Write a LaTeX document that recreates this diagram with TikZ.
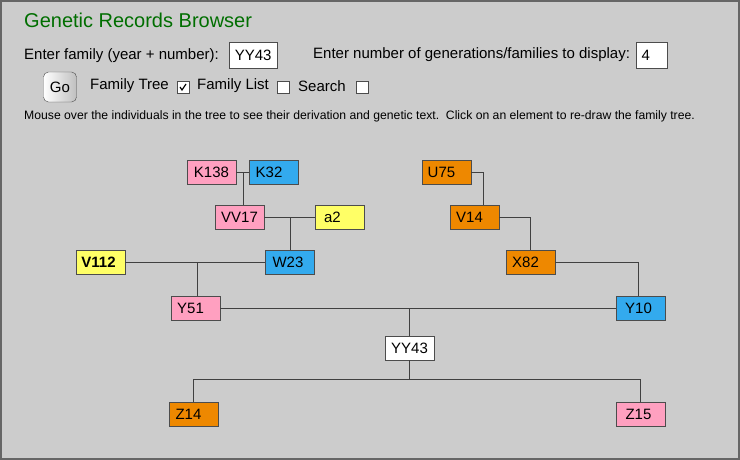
\documentclass[tikz,border=0pt]{standalone}
\usepackage{fontspec}
\setmainfont{Liberation Sans}
\usetikzlibrary{positioning}
\definecolor{bg}{RGB}{204,204,204}
\definecolor{fpink}{RGB}{255,160,192}
\definecolor{fblue}{RGB}{51,170,238}
\definecolor{fyellow}{RGB}{255,255,102}
\definecolor{forange}{RGB}{238,136,0}
\definecolor{ftitle}{RGB}{0,110,0}
\begin{document}
\begin{tikzpicture}[
  x=1pt, y=-1pt,
  person/.style = {draw=black!70, minimum width=49pt, minimum height=24pt, inner sep=0pt, font=\fontsize{15}{16}\selectfont, text=black},
  field/.style = {draw=black!70, fill=white, minimum height=26pt, inner sep=0pt, font=\fontsize{15}{16}\selectfont},
  tick/.style = {draw=black!70, fill=white, minimum size=12pt, inner sep=0pt},
  lbl/.style = {anchor=west, inner sep=0pt, font=\fontsize{15}{16}\selectfont},
  link/.style = {draw=black!75, line width=0.9pt}
  ]
  \draw[fill=bg, draw=black!60, line width=2pt] (1,1) rectangle (739,459);
  \useasboundingbox (0,0) rectangle (740,460);

  % header
  \node[lbl, font=\fontsize{20}{22}\selectfont, text=ftitle] (title) at (24,20) {Genetic Records Browser};
  \node[lbl] (askfam) at (24,56) {Enter family (year + number):};
  \node[field, minimum width=48pt, anchor=west] (famin) at (229,55) {YY43};
  \node[lbl] (askgen) at (313,55) {Enter number of generations/families to display:};
  \node[field, minimum width=31pt, anchor=west] (genin) at (636,55) {\hspace*{-12pt}4};
  \node[draw=black!70, rounded corners=5pt, minimum width=33pt, minimum height=30pt, inner sep=0pt,
        top color=white, bottom color=black!25, shading angle=90, font=\fontsize{15}{16}\selectfont] (go) at (60,87) {Go};
  \node[lbl] (ftree) at (90,86) {Family Tree};
  \node[tick] (cbtree) at (183,87) {};
  \draw[line width=1.2pt] ([shift={(-3,0)}]cbtree.center) -- ([shift={(-1,3)}]cbtree.center) -- ([shift={(3,-3)}]cbtree.center);
  \node[lbl] (flist) at (197,86) {Family List};
  \node[tick] (cblist) at (283,87) {};
  \node[lbl] (fsearch) at (298,86) {Search};
  \node[tick] (cbsearch) at (362,87) {};
  \node[lbl, font=\fontsize{12.2}{13}\selectfont] (hint) at (24,116) {Mouse over the individuals in the tree to see their derivation and genetic text.\ \ Click on an element to re-draw the family tree.};

  % tree
  \node[person, fill=fpink] (k138) at (211.5,172) {K138};
  \node[person, fill=fblue] (k32) at (274,172) {\hspace*{-10pt}K32};
  \node[person, fill=fpink] (vv17) at (239.5,217) {VV17};
  \node[person, fill=fyellow] (a2) at (339.5,217) {\hspace*{-14pt}a2};
  \node[person, fill=fyellow, font=\fontsize{15}{16}\selectfont\bfseries] (v112) at (100.5,262) {\hspace*{-4pt}V112};
  \node[person, fill=fblue] (w23) at (290,262) {\hspace*{-4pt}W23};
  \node[person, fill=fpink] (y51) at (195.5,308) {\hspace*{-10pt}Y51};
  \node[person, fill=forange] (u75) at (446.5,172) {\hspace*{-10pt}U75};
  \node[person, fill=forange] (v14) at (474.5,217) {\hspace*{-10pt}V14};
  \node[person, fill=forange] (x82) at (530.5,262) {\hspace*{-10pt}X82};
  \node[person, fill=fblue] (y10) at (640.5,308) {\hspace*{-4pt}Y10};
  \node[person, fill=white] (yy43) at (409.5,348) {YY43};
  \node[person, fill=forange] (z14) at (193.5,414) {\hspace*{-10pt}Z14};
  \node[person, fill=fpink] (z15) at (640.5,414) {\hspace*{-4pt}Z15};

  \coordinate (kmid) at (243,172);
  \coordinate (vmid) at (290,217);
  \coordinate (wmid) at (197,262);
  \coordinate (ymid) at (409.5,308);
  \coordinate (zmid) at (409.5,379);

  \draw[link] (k138) -- (k32);
  \draw[link] (kmid) -- (kmid |- vv17.north);
  \draw[link] (vv17) -- (a2);
  \draw[link] (vmid) -- (vmid |- w23.north);
  \draw[link] (v112) -- (w23);
  \draw[link] (wmid) -- (wmid |- y51.north);
  \draw[link] (u75.east) -- (483,172) -- (483,205);
  \draw[link] (v14.east) -| (x82.north);
  \draw[link] (x82.east) -- (638,262) -- (638,296);
  \draw[link] (y51) -- (y10);
  \draw[link] (ymid) -- (yy43.north);
  \draw[link] (yy43.south) -- (zmid);
  \draw[link] (193,402) -- (193,379) -- (640,379) -- (640,402);
\end{tikzpicture}
\end{document}
